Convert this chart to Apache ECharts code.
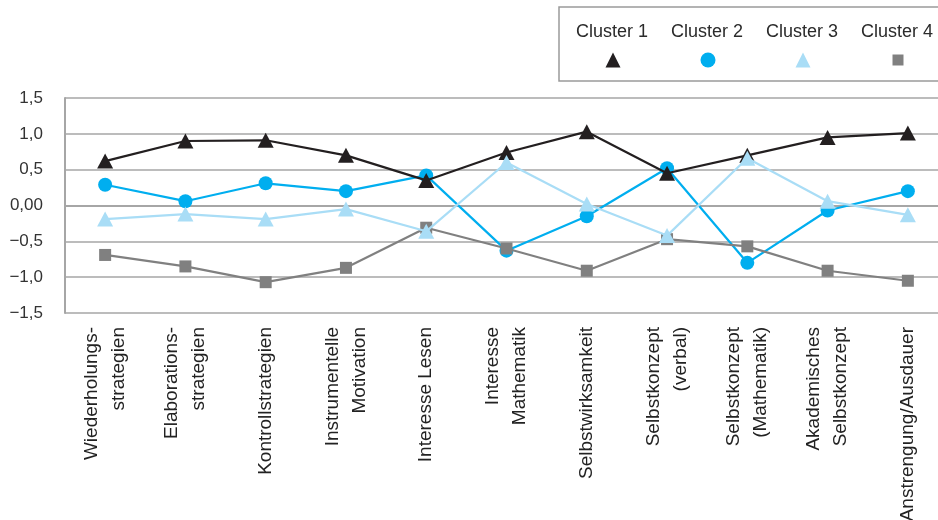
<!DOCTYPE html>
<html>
<head>
<meta charset="utf-8">
<script src="https://cdn.jsdelivr.net/npm/echarts@6/dist/echarts.min.js"></script>
<style>
html,body{margin:0;padding:0;background:#fff;}
#chart{width:938px;height:520px;}
</style>
</head>
<body>
<div id="chart"></div>
<script>
var categories = [
  'Wiederholungs-\nstrategien',
  'Elaborations-\nstrategien',
  'Kontrollstrategien',
  'Instrumentelle\nMotivation',
  'Interesse Lesen',
  'Interesse\nMathematik',
  'Selbstwirksamkeit',
  'Selbstkonzept\n(verbal)',
  'Selbstkonzept\n(Mathematik)',
  'Akademisches\nSelbstkonzept',
  'Anstrengung/Ausdauer'
];
var seriesNames = ['Cluster 1', 'Cluster 2', 'Cluster 3', 'Cluster 4'];
var cluster1 = [0.62, 0.90, 0.91, 0.70, 0.35, 0.74, 1.03, 0.45, 0.70, 0.95, 1.01];
var cluster2 = [0.29, 0.06, 0.31, 0.20, 0.42, -0.63, -0.15, 0.52, -0.80, -0.07, 0.20];
var cluster3 = [-0.19, -0.12, -0.19, -0.05, -0.36, 0.60, 0.02, -0.42, 0.66, 0.06, -0.13];
var cluster4 = [-0.69, -0.85, -1.07, -0.87, -0.31, -0.60, -0.91, -0.47, -0.57, -0.91, -1.05];
var yTickValues = [-1.5, -1.0, -0.5, 0, 0.5, 1.0, 1.5];
var yTickLabels = ['\u22121,5', '\u22121,0', '\u22120,5', '0,00', '0,5', '1,0', '1,5'];

var colors = ['#231f20', '#00aeef', '#a9ddf6', '#808080'];
var symbols = ['triangle', 'circle', 'triangle', 'rect'];
var symbolSizes = [[16, 15], 14, [16, 15], 12];
var zs = [3, 2, 5, 4];
var dataArr = [cluster1, cluster2, cluster3, cluster4];
var FONT = "'Liberation Sans', Arial, sans-serif";

var series = seriesNames.map(function (n, i) {
  return {
    name: n,
    type: 'line',
    data: dataArr[i],
    symbol: symbols[i],
    symbolSize: symbolSizes[i],
    z: zs[i],
    lineStyle: { color: colors[i], width: 2.2 },
    itemStyle: { color: colors[i], borderWidth: 0 },
    animation: false
  };
});

var chart = echarts.init(document.getElementById('chart'), null, { renderer: 'canvas' });
chart.setOption({
  backgroundColor: '#ffffff',
  animation: false,
  grid: { left: 65, top: 98, width: 883, height: 215, containLabel: false, outerBoundsMode: 'none' },
  graphic: [{
    type: 'rect',
    shape: { x: 559, y: 7, width: 420, height: 74 },
    style: { fill: '#fff', stroke: '#9a9a9a', lineWidth: 1.5 },
    z: 0
  }],
  legend: [{
    data: seriesNames.map(function (n) { return { name: n, icon: 'none' }; }),
    selectedMode: false,
    left: 571, top: 22.5, width: 400, padding: 0,
    itemWidth: 0, itemHeight: 20, itemGap: 18,
    textStyle: { fontFamily: FONT, fontSize: 18, color: '#2b2b2b' },
    z: 10
  }, {
    data: seriesNames.map(function (n, i) {
      var ic = symbols[i];
      if (i === 3) ic = 'path://M0,0M15,15M2,2L13,2L13,13L2,13Z';
      return { name: n, icon: ic, itemStyle: { color: colors[i] } };
    }),
    selectedMode: false,
    left: 605.5, top: 52.5, width: 400, padding: 0,
    itemWidth: 15, itemHeight: 15, itemGap: 80,
    formatter: function () { return ''; },
    textStyle: { fontSize: 1 },
    z: 10
  }],
  xAxis: {
    type: 'category',
    data: categories,
    boundaryGap: true,
    axisLine: { show: true, lineStyle: { color: '#a6a6a6', width: 2 } },
    axisTick: { show: false },
    axisLabel: {
      interval: 0, rotate: 90, margin: 14,
      fontFamily: FONT, fontSize: 19, lineHeight: 27, color: '#222'
    },
    splitLine: { show: false }
  },
  yAxis: {
    type: 'value',
    min: -1.5, max: 1.5, interval: 0.5,
    axisLine: { show: true, lineStyle: { color: '#a6a6a6', width: 2 } },
    axisTick: { show: false },
    axisLabel: {
      margin: 22, fontFamily: FONT, fontSize: 17, color: '#333',
      formatter: function (v) {
        for (var k = 0; k < yTickValues.length; k++) {
          if (Math.abs(yTickValues[k] - v) < 1e-6) return yTickLabels[k];
        }
        return '';
      }
    },
    splitLine: { show: true, lineStyle: { color: '#a6a6a6', width: 1.5 } }
  },
  series: series
});
</script>
</body>
</html>
